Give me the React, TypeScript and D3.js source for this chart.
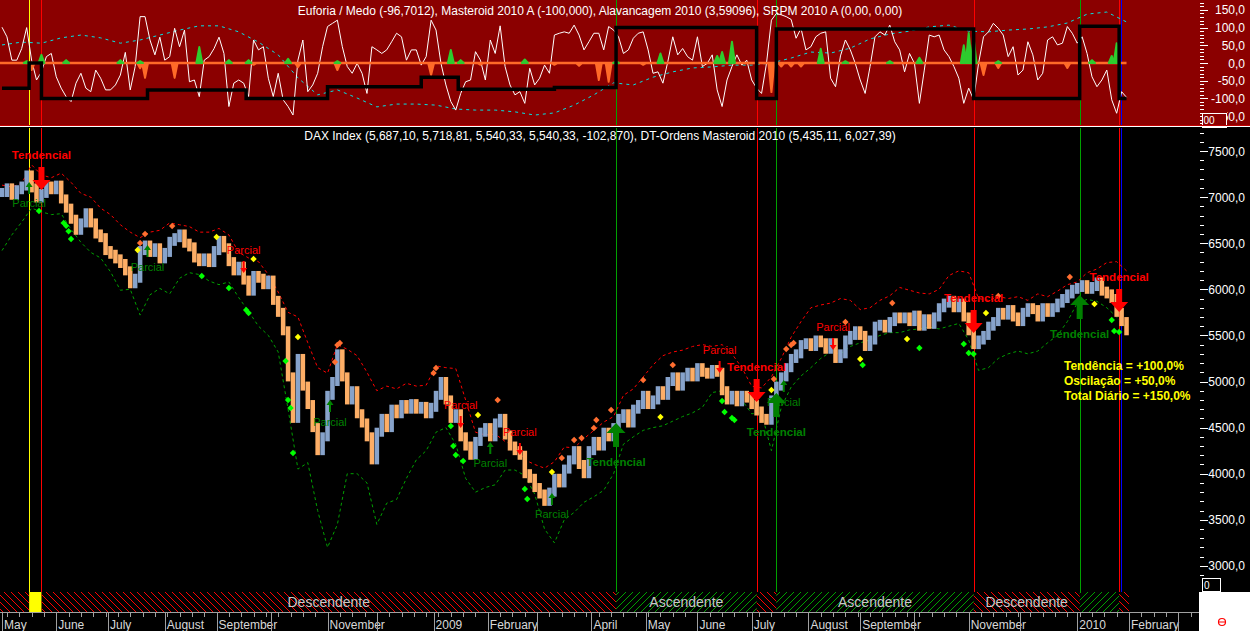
import React from 'react';
import * as d3 from 'd3';

// ---------- DATA ----------
// DAX closes, one value every 2 trading days starting 2008-05-01
const closes = [
  7050, 7100, 7020, 7080, 7120, 7240, 7100, 6990, 7040, 7120,
  7080, 7130, 6980, 6880, 6760, 6640, 6720, 6830, 6720, 6600,
  6560, 6420, 6380, 6330, 6280, 6200, 6060, 6120, 6420, 6480,
  6400, 6450, 6330, 6400, 6520, 6560, 6600, 6500, 6460, 6340,
  6300, 6340, 6290, 6420, 6530, 6450, 6300, 6200, 6250, 6100,
  5980, 6150, 6120, 6050, 6100, 5880, 5750, 5550, 5050, 4600,
  5250, 4950, 4750, 4500, 4250, 4400, 4850, 5000, 5300, 5050,
  4800, 4900, 4650, 4550, 4400, 4150, 4450, 4600, 4500, 4700,
  4650, 4750, 4700, 4760, 4700, 4730, 4650, 4720, 4850, 5000,
  4800, 4600, 4650, 4400, 4300, 4200, 4350, 4450, 4500, 4400,
  4550, 4600, 4420, 4300, 4250, 4200, 4000, 3950, 3850, 3780,
  3700, 3800, 3950, 3900, 4050, 4150, 4250, 4100, 4000, 4250,
  4350, 4300, 4450, 4400, 4500, 4600, 4650, 4550, 4700, 4750,
  4850, 4750, 4800, 4900, 4850, 5000, 5050, 4950, 5050, 5100,
  5050, 5150, 5100, 5080, 5130, 5100, 4900, 4800, 4850, 4780,
  4850, 4820, 4750, 4680, 4600, 4580, 4800, 4950, 5050, 5150,
  5250, 5300, 5400, 5420, 5380, 5450, 5420, 5350, 5420, 5250,
  5300, 5450, 5500, 5550, 5500, 5380, 5450, 5600, 5620, 5580,
  5650, 5700, 5680, 5700, 5650, 5720, 5600, 5680, 5620, 5700,
  5800, 5850, 5880, 5800, 5850, 5700, 5550, 5400, 5450, 5500,
  5600, 5650, 5750, 5720, 5780, 5700, 5650, 5750, 5800, 5780,
  5700, 5800, 5750, 5800, 5850, 5900, 5950, 6000, 6020, 6050,
  6000, 6030, 6080, 5980, 5950, 5900, 5750, 5650, 5550,
];

// Euforia / Medo oscillator, same sampling as closes
const euforia = [
  101, 74, 8, 8, 41, 100, 8, -48, -25, 18,
  27, -39, -71, -95, -109, -57, -29, -71, -81, -20,
  -43, -76, -76, -62, -34, 30, -76, -10, 131, 131,
  65, 23, 73, 8, 18, 98, 46, 93, -53, -48,
  -95, 8, 18, 41, 73, 27, -123, -57, -48, -57,
  -95, 65, 37, 46, -43, -95, -29, -104, -123, -147,
  8, 65, -81, -62, -29, 46, 103, 112, 121, 46,
  -10, -29, -1, -29, -86, 46, 37, 27, 37, 60,
  84, 74, 8, 37, 37, -6, 18, 121, 93, -1,
  -62, -109, -133, -86, -53, -48, 32, 8, -48, 65,
  27, 105, -10, -62, -90, -81, -114, -15, -62, -43,
  -6, -29, 79, 84, 88, 84, 107, 79, 37, 60,
  84, 84, 37, 103, 93, 74, 27, 37, 70, 84,
  88, 37, -29, -25, -57, 4, 74, 23, 41, 18,
  8, 74, -10, -1, 23, -76, -123, -48, -10, 23,
  -6, 8, -48, -71, -86, -1, 121, 140, 136, 131,
  123, 70, 98, 37, 46, 74, 84, 88, -43, -67,
  20, 65, 37, -1, -48, -86, -10, 74, 88, 79,
  107, 60, 37, -25, 27, -1, -114, -20, 79, 74,
  79, 37, 18, -10, -43, -114, -71, -104, -1, 74,
  88, 112, 98, 79, 18, 46, -34, -20, 60, 23,
  -48, -29, 65, 74, 51, 56, 103, 84, 56, 74,
  27, -39, -67, -48, -20, -104, -142, -81, -97,
];

// DT-Ordens bands, one value every 4 trading days
const upperBand = [
  7130, 7110, 7150, 7350, 7240, 7210, 7260, 7160, 7040, 7000,
  6880, 6810, 6700, 6620, 6560, 6620, 6640, 6720, 6700, 6680,
  6620, 6620, 6660, 6590, 6400, 6340, 6300, 6160, 5970, 5750,
  5700, 5420, 5150, 5090, 5400, 5350, 5280, 5100, 4900, 4950,
  4920, 4980, 4950, 4960, 5170, 5150, 5140, 4800, 4450, 4420,
  4430, 4350, 4300, 4150, 4100, 4060, 4130, 4290, 4280, 4380,
  4470, 4560, 4620, 4850, 4920, 5050, 5180, 5280, 5320, 5340,
  5380, 5400, 5380, 5400, 5300, 5150, 4950, 4930, 5050, 5250,
  5480, 5650, 5800, 5830, 5850, 5900, 5880, 5780, 5800, 5880,
  5930, 6020, 5990, 5960, 5950, 6000, 6150, 6200, 6180, 5900,
  5880, 5920, 5900, 5920, 5880, 5950, 5920, 5980, 6050, 6080,
  6180, 6220, 6290, 6300, 6200,
];
const lowerBand = [
  6420, 6590, 6730, 6880, 6840, 6810, 6820, 6650, 6510, 6400,
  6340, 6190, 5990, 6000, 5720, 5940, 6010, 5950, 6120, 6180,
  6160, 6090, 6050, 6080, 5910, 5760, 5600, 5500, 5320, 4700,
  4050, 4120, 3600, 3200, 3450, 4000, 4000, 3900, 3450, 3680,
  3720, 3950, 4150, 4250, 4450, 4500, 4320, 3950, 3800, 3850,
  3880, 4040, 4040, 3980, 3780, 3400, 3250, 3500, 3580, 3690,
  3750, 3820, 4000, 4320, 4400, 4470, 4500, 4520, 4570, 4620,
  4660, 4720, 4880, 4900, 4890, 4800, 4650, 4660, 4250, 4720,
  4940, 5060, 5150, 5250, 5320, 5300, 5380, 5420, 5450, 5500,
  5530, 5530, 5560, 5570, 5590, 5570, 5600, 5630, 5450, 5120,
  5150, 5250, 5300, 5330, 5300, 5330, 5420, 5500, 5650, 5850,
  5890, 5870, 5800, 5700, 5580,
];

// Alavancagem (cyan dashed), one value every 8 trading days
const alavancagem = [
  51, 59, 56, 71, 79, 71, 56, 65, 79, 93,
  105, 105, 88, 59, 23, -42, -90, -76, -99, -124,
  -116, -116, -119, -130, -133, -133, -138, -147, -141, -119,
  -90, -56, -62, -40, -25, -14, -11, -6, -6, 0,
  14, 31, 28, 42, 68, 82, 90, 102, 107, 90,
  88, 93, 96, 102, 113, 138, 144, 116,
];

// Masteroid level changes (trading-day index, level)
const masteroidDays = [0, 11, 16, 59, 99, 132, 170, 185, 224, 249, 306, 314, 394, 437, 453];
const masteroidValues = [-71, 0, -100, -76, -100, -67, -40, -74, -69, 100, -100, 96, -100, 104, -100];

// SRPM histogram bumps (trading-day index, value)
const srpmGreen: [number, number][] = [
  [10, 5], [16, 23], [26, 8], [48, 8], [56, 5], [80, 45], [92, 8], [100, 8], [116, 12],
  [136, 5], [182, 37], [186, 8], [212, 10], [249, 5], [267, 27], [290, 20], [292, 31],
  [296, 60], [332, 40], [342, 5], [360, 5], [372, 15], [390, 50], [392, 85], [394, 70],
  [404, 5], [442, 8], [450, 20], [452, 56],
];
const srpmOrange: [number, number][] = [
  [12, -20], [56, -15], [58, -42], [70, -42], [102, -5], [120, -12], [136, -20], [174, -34],
  [194, -5], [224, -5], [234, -8], [242, -48], [246, -53], [260, -5], [312, -82], [316, -10],
  [320, -10], [324, -10], [398, -34], [404, -14], [432, -14],
];

// Trend signals (trading-day index, kind)
const signalDays = [11, 16, 249, 306, 314, 394, 437, 453];
const signalKinds = ['neutral', 'sell', 'buy', 'sell', 'buy', 'sell', 'buy', 'sell'];

// Order arrows (trading-day index, price at arrow tip)
const tendencialSell: [number, number][] = [[16, 7077], [306, 4778], [394, 5526], [453, 5754]];
const tendencialBuy: [number, number][] = [[249, 4550], [314, 4875], [437, 5938]];
const parcialSell: [number, number][] = [[98, 6177], [186, 4496], [210, 4203], [291, 5092], [337, 5342]];
const parcialBuy: [number, number][] = [[11, 7164], [59, 6480], [133, 4799], [198, 4344], [223, 3791], [317, 5016]];

// Diamond markers (trading-day index, price)
const greenDots: [number, number][] = [
  [15, 6849], [25, 6720], [26, 6690], [27, 6630], [28, 6545], [81, 6145], [92, 6014], [99, 5776],
  [100, 5743], [115, 5222], [116, 4800], [117, 4713], [118, 4225], [182, 4517], [183, 4300],
  [184, 4203], [187, 4138], [212, 3834], [213, 3726], [292, 4789], [293, 4669], [296, 4604],
  [297, 4582], [349, 5179], [372, 5363], [390, 5407], [392, 5309], [394, 5298], [450, 5667],
  [451, 5548], [453, 5537],
];
const yellowDots: [number, number][] = [
  [55, 6426], [87, 6567], [102, 6329], [120, 5483], [193, 4637], [223, 4018], [267, 4615],
  [312, 4908], [348, 5244], [367, 5461], [399, 5743], [443, 5841],
];
const orangeDots: [number, number][] = [
  [56, 6502], [58, 6600], [69, 6687], [135, 5211], [136, 5396], [137, 5418], [175, 5092],
  [176, 5146], [201, 4799], [227, 4170], [232, 4365], [235, 4387], [240, 4496], [241, 4582],
  [247, 4691], [260, 5016], [272, 5179], [313, 5027], [318, 5352], [320, 5396], [321, 5418],
  [342, 5645], [361, 5851], [404, 5927], [433, 6133],
];

const priceTicks = [3000, 3500, 4000, 4500, 5000, 5500, 6000, 6500, 7000, 7500];
const oscTicks = [-150, -100, -50, 0, 50, 100, 150];
const monthNames = ['January', 'February', 'March', 'April', 'May', 'June', 'July', 'August', 'September', 'October', 'November', 'December'];
const summaryLines = ['Tendência = +100,0%', 'Oscilação = +50,0%', 'Total Diário = +150,0%'];
const topTitle = 'Euforia / Medo (-96,7012), Masteroid 2010 A (-100,000), Alavancagem 2010 (3,59096), SRPM 2010 A (0,00, 0,00)';
const mainTitle = 'DAX Index (5,687,10, 5,718,81, 5,540,33, 5,540,33, -102,870), DT-Ordens Masteroid 2010 (5,435,11, 6,027,39)';

// ---------- HELPERS ----------
const FONT = '"Liberation Sans", Arial, sans-serif';

function weekdayCalendar(): Date[] {
  const out: Date[] = [];
  const end = new Date(2010, 3, 1);
  for (let d = new Date(2008, 4, 1); d < end; d = d3.timeDay.offset(d, 1)) {
    const wd = d.getDay();
    if (wd !== 0 && wd !== 6) out.push(new Date(d));
  }
  return out;
}

let measureCtx: CanvasRenderingContext2D | null = null;
function textWidth(s: string, font: string) {
  if (!measureCtx) measureCtx = document.createElement('canvas').getContext('2d');
  if (!measureCtx) return s.length * 6;
  measureCtx.font = font;
  return measureCtx.measureText(s).width;
}

const kindColor: Record<string, string> = { neutral: '#FFFF00', sell: '#FF0000', buy: '#00A000' };

export default function App() {
  const cal = weekdayCalendar();
  const febIdx = cal.findIndex((d) => d >= new Date(2010, 1, 1));
  const x = d3.scaleLinear().domain([0, febIdx]).range([2, 1129]);
  const yP = d3.scaleLinear().domain([3000, 7500]).range([565.9, 151]);
  const yO = d3.scaleLinear().domain([-150, 150]).range([116.1, 9.9]);

  const lastDay = (closes.length - 1) * 2;
  const stepW = x(2) - x(0);
  const barW = stepW - 0.4;
  const pad = 4.5;

  // price bars
  const bars = closes.map((c, k) => {
    const o = k > 0 ? closes[k - 1] : c;
    const top = yP(Math.max(o, c)) - pad;
    const bot = yP(Math.min(o, c)) + pad;
    return { x: x(2 * k) - barW / 2, y: top, h: bot - top, up: c >= o };
  });

  const lineBand = d3.line<number>().x((_, i) => x(4 * i)).y((v) => yP(v));
  const lineEuf = d3.line<number>().x((_, i) => x(2 * i)).y((v) => yO(v));
  const lineCyan = d3.line<number>().x((_, i) => x(8 * i)).y((v) => yO(v));
  const mastPts: [number, number][] = masteroidDays.map((d, i) => [x(d), yO(masteroidValues[i])]);
  mastPts.push([x(lastDay), yO(masteroidValues[masteroidValues.length - 1])]);
  const lineMast = d3.line().curve(d3.curveStepAfter);

  // month ticks
  const axisFont = `12px ${FONT}`;
  const monthTicks: { x: number; label: string | null }[] = [];
  const weekTicks: number[] = [];
  let prevEnd = -Infinity;
  cal.forEach((d, i) => {
    const xi = x(i);
    if (xi > 1199) return;
    if (i === 0 || d.getMonth() !== cal[i - 1].getMonth()) {
      const label = d.getMonth() === 0 ? String(d.getFullYear()) : monthNames[d.getMonth()];
      const w = textWidth(label, axisFont);
      const show = xi >= prevEnd;
      if (show) prevEnd = xi + 2 + w + 2;
      monthTicks.push({ x: xi, label: show ? label : null });
    } else if (d.getDay() === 1) {
      weekTicks.push(xi);
    }
  });

  // trend segments for bottom band
  const segStarts = [0, ...signalDays];
  const segKinds = ['sell', ...signalKinds];
  const segments = segStarts.map((s, i) => {
    const e = i + 1 < segStarts.length ? segStarts[i + 1] : lastDay;
    const x0 = i === 0 ? x(s) - stepW / 2 : x(s);
    const x1 = i + 1 < segStarts.length ? x(e) : x(e) + stepW / 2;
    return { x0, x1, kind: segKinds[i] };
  });
  const bandFont = `14px ${FONT}`;

  const diamond = (cx: number, cy: number, r: number) =>
    `M${cx},${cy - r}L${cx + r},${cy}L${cx},${cy + r}L${cx - r},${cy}Z`;

  const bigDown = (cx: number, ty: number) =>
    `M${cx - 3},${ty - 23}L${cx + 3},${ty - 23}L${cx + 3},${ty - 10}L${cx + 9},${ty - 10}L${cx},${ty}L${cx - 9},${ty - 10}L${cx - 3},${ty - 10}Z`;
  const bigUp = (cx: number, ty: number) =>
    `M${cx - 3},${ty + 24}L${cx + 3},${ty + 24}L${cx + 3},${ty + 10}L${cx + 9.5},${ty + 10}L${cx},${ty}L${cx - 9.5},${ty + 10}L${cx - 3},${ty + 10}Z`;
  const smallDown = (cx: number, ty: number) =>
    `M${cx - 1},${ty - 12}L${cx + 1},${ty - 12}L${cx + 1},${ty - 5}L${cx + 3.5},${ty - 5}L${cx},${ty}L${cx - 3.5},${ty - 5}L${cx - 1},${ty - 5}Z`;
  const smallUp = (cx: number, ty: number) =>
    `M${cx - 1},${ty + 12}L${cx + 1},${ty + 12}L${cx + 1},${ty + 5}L${cx + 3.5},${ty + 5}L${cx},${ty}L${cx - 3.5},${ty + 5}L${cx - 1},${ty + 5}Z`;

  const bump = (d: number, v: number) =>
    `M${x(d - 1.2)},${yO(0)}L${x(d)},${yO(v)}L${x(d + 1.2)},${yO(0)}Z`;

  const minorPrice = d3.range(2900, 7701, 100).filter((v) => v % 500 !== 0);
  const minorOsc = d3.range(-170, 171, 10).filter((v) => v % 50 !== 0);
  const lastSig = Math.round(x(signalDays[signalDays.length - 1]));

  return (
    <svg width={1250} height={631} style={{ position: 'absolute', left: 0, top: 0, display: 'block' }} fontFamily={FONT}>
      <defs>
        <clipPath id="topClip"><rect x={0} y={0} width={1199} height={125} /></clipPath>
        <clipPath id="mainClip"><rect x={0} y={128} width={1199} height={464} /></clipPath>
        <clipPath id="lblClip"><rect x={1227} y={100} width={30} height={25} /></clipPath>
        <pattern id="hatchRed" patternUnits="userSpaceOnUse" width={7} height={7}>
          <path d="M-1,-1L8,8M-1,6L1,8M6,-1L8,1" stroke="#FF0000" strokeWidth={1} />
        </pattern>
        <pattern id="hatchGreen" patternUnits="userSpaceOnUse" width={7} height={7}>
          <path d="M-1,8L8,-1M-1,1L1,-1M6,8L8,6" stroke="#00A000" strokeWidth={1} />
        </pattern>
      </defs>
      <rect x={0} y={0} width={1250} height={631} fill="#000" />

      {/* ---------- TOP PANEL ---------- */}
      <rect x={0} y={0} width={1250} height={125} fill="#8B0000" />
      <g clipPath="url(#topClip)">
        {signalDays.map((d, i) => (
          <line key={'vt' + i} x1={Math.round(x(d)) + 0.5} x2={Math.round(x(d)) + 0.5} y1={0} y2={125}
            stroke={kindColor[signalKinds[i]]} strokeWidth={1} />
        ))}
        <line x1={lastSig + 2.5} x2={lastSig + 2.5} y1={0} y2={125} stroke="#0000FF" strokeWidth={1} />
        <path d={lineCyan(alavancagem) || ''} fill="none" stroke="#00E5E5" strokeWidth={1} strokeDasharray="3,4" />
        <path d={lineEuf(euforia) || ''} fill="none" stroke="#FFFFFF" strokeWidth={1} />
        <line x1={0} x2={x(lastDay)} y1={yO(0)} y2={yO(0)} stroke="#FF6A28" strokeWidth={2.5} />
        {srpmOrange.map(([d, v], i) => (
          <path key={'so' + i} d={bump(d, v)} fill="#FF6A28" stroke="#FF6A28" strokeWidth={2} strokeLinejoin="round" />
        ))}
        {srpmGreen.map(([d, v], i) => (
          <path key={'sg' + i} d={bump(d, v)} fill="#2ECC2E" stroke="#2ECC2E" strokeWidth={2} strokeLinejoin="round" />
        ))}
        <path d={lineMast(mastPts) || ''} fill="none" stroke="#000" strokeWidth={3.5} />
      </g>
      <text x={600} y={15} fill="#FFF" fontSize={12} textAnchor="middle">{topTitle}</text>
      {/* top axis */}
      {minorOsc.map((v) => (
        <line key={'mo' + v} x1={1200} x2={1204} y1={Math.round(yO(v)) + 0.5} y2={Math.round(yO(v)) + 0.5} stroke="#FFF" />
      ))}
      {oscTicks.map((v) => (
        <g key={'ot' + v}>
          <line x1={1200} x2={1208} y1={Math.round(yO(v)) + 0.5} y2={Math.round(yO(v)) + 0.5} stroke="#FFF" />
          <text x={1245} y={yO(v) + 4.5} fill="#FFF" fontSize={12} textAnchor="end"
            clipPath={v === -150 ? 'url(#lblClip)' : undefined}>{`${v},0`}</text>
        </g>
      ))}
      <rect x={1202.5} y={113.5} width={24} height={14} fill="#8B0000" stroke="#FFF" strokeWidth={1} />
      <text x={1203.5} y={124} fill="#FFF" fontSize={10}>00</text>

      {/* separator */}
      <rect x={0} y={125} width={1250} height={1} fill="#C00000" />
      <rect x={0} y={126} width={1250} height={1} fill="#FFFFFF" />

      {/* ---------- MAIN PANEL ---------- */}
      <g clipPath="url(#mainClip)">
        {signalDays.map((d, i) => (
          <line key={'vm' + i} x1={Math.round(x(d)) + 0.5} x2={Math.round(x(d)) + 0.5} y1={127} y2={592}
            stroke={kindColor[signalKinds[i]]} strokeWidth={1} />
        ))}
        <line x1={lastSig + 2.5} x2={lastSig + 2.5} y1={127} y2={592} stroke="#0000FF" strokeWidth={1} />
        <path d={lineBand(upperBand) || ''} fill="none" stroke="#FF0000" strokeWidth={1} strokeDasharray="3,3" />
        <path d={lineBand(lowerBand) || ''} fill="none" stroke="#00A000" strokeWidth={1} strokeDasharray="3,3" />
        {bars.map((b, i) => (
          <rect key={'b' + i} x={b.x} y={b.y} width={barW} height={b.h} fill={b.up ? '#87A3CB' : '#FDAE66'} />
        ))}
        {greenDots.map(([d, v], i) => <path key={'gd' + i} d={diamond(x(d), yP(v), 3.2)} fill="#00FF00" />)}
        {yellowDots.map(([d, v], i) => <path key={'yd' + i} d={diamond(x(d), yP(v), 3.2)} fill="#FFFF00" />)}
        {orangeDots.map(([d, v], i) => <path key={'od' + i} d={diamond(x(d), yP(v), 3.2)} fill="#FF6E30" />)}

        {parcialSell.map(([d, v], i) => (
          <g key={'ps' + i}>
            <path d={smallDown(x(d), yP(v))} fill="#FF0000" />
            <text x={x(d)} y={yP(v) - 19} fill="#FF0000" fontSize={11} textAnchor="middle">Parcial</text>
          </g>
        ))}
        {parcialBuy.map(([d, v], i) => (
          <g key={'pb' + i}>
            <path d={smallUp(x(d), yP(v))} fill="#008000" />
            <text x={x(d)} y={yP(v) + 25.5} fill="#008000" fontSize={11} textAnchor="middle">Parcial</text>
          </g>
        ))}
        {tendencialSell.map(([d, v], i) => (
          <g key={'ts' + i}>
            <path d={bigDown(x(d), yP(v))} fill="#FF0000" />
            <text x={x(d)} y={yP(v) - 31} fill="#FF0000" fontSize={11.5} fontWeight="bold" textAnchor="middle">Tendencial</text>
          </g>
        ))}
        {tendencialBuy.map(([d, v], i) => (
          <g key={'tb' + i}>
            <path d={bigUp(x(d), yP(v))} fill="#008000" />
            <text x={x(d)} y={yP(v) + 43} fill="#008000" fontSize={11.5} fontWeight="bold" textAnchor="middle">Tendencial</text>
          </g>
        ))}
      </g>
      <text x={600} y={140} fill="#FFF" fontSize={12} textAnchor="middle">{mainTitle}</text>
      {summaryLines.map((s, i) => (
        <text key={'sl' + i} x={1064} y={370 + i * 15} fill="#FFFF00" fontSize={12} fontWeight="bold">{s}</text>
      ))}

      {/* price axis */}
      {minorPrice.map((v) => (
        <line key={'mp' + v} x1={1200} x2={1204} y1={Math.round(yP(v)) + 0.5} y2={Math.round(yP(v)) + 0.5} stroke="#FFF" />
      ))}
      {priceTicks.map((v) => (
        <g key={'pt' + v}>
          <line x1={1200} x2={1208} y1={Math.round(yP(v)) + 0.5} y2={Math.round(yP(v)) + 0.5} stroke="#FFF" />
          <text x={1245} y={yP(v) + 4.5} fill="#FFF" fontSize={12} textAnchor="end">{`${v},0`}</text>
        </g>
      ))}
      <rect x={1202.5} y={578.5} width={18} height={13} fill="#000" stroke="#FFF" strokeWidth={1} />
      <text x={1204} y={589} fill="#FFF" fontSize={10}>0</text>

      {/* ---------- TREND BAND ---------- */}
      {segments.map((s, i) => (
        <rect key={'sg' + i} x={s.x0} y={592} width={Math.max(0, s.x1 - s.x0)} height={20}
          fill={s.kind === 'neutral' ? '#FFFF00' : s.kind === 'sell' ? 'url(#hatchRed)' : 'url(#hatchGreen)'} />
      ))}
      {segments.map((s, i) => {
        if (s.kind === 'neutral') return null;
        const label = s.kind === 'sell' ? 'Descendente' : 'Ascendente';
        const w = textWidth(label, bandFont);
        if (s.x1 - s.x0 < w + 20) return null;
        return (
          <text key={'sl' + i} x={(s.x0 + s.x1) / 2} y={607} fill="#C8C8C8" fontSize={14} textAnchor="middle">{label}</text>
        );
      })}

      {/* ---------- TIME AXIS ---------- */}
      <line x1={0} x2={1199} y1={612.5} y2={612.5} stroke="#A0A0A0" />
      {weekTicks.map((wx, i) => (
        <line key={'wt' + i} x1={Math.round(wx) + 0.5} x2={Math.round(wx) + 0.5} y1={612} y2={617} stroke="#A0A0A0" />
      ))}
      {monthTicks.map((t, i) => (
        <g key={'mt' + i}>
          <line x1={Math.round(t.x) + 0.5} x2={Math.round(t.x) + 0.5} y1={612} y2={631} stroke="#A0A0A0" />
          {t.label && <text x={t.x + 2} y={629} fill="#D8D8D8" fontSize={12}>{t.label}</text>}
        </g>
      ))}
      <rect x={1199} y={592} width={51} height={39} fill="#FFFFFF" />
      <circle cx={1222} cy={622} r={3.5} fill="none" stroke="#FF0000" strokeWidth={1.2} />
      <line x1={1219} x2={1225} y1={622} y2={622} stroke="#FF0000" strokeWidth={1} />
    </svg>
  );
}
